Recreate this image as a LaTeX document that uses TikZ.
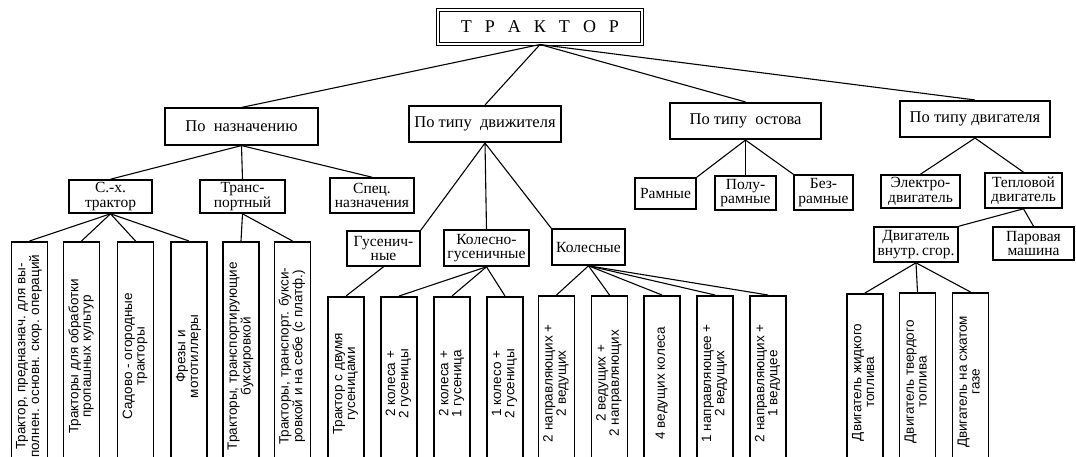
\documentclass[tikz,border=0pt]{standalone}
\usepackage{fontspec}
\usepackage{graphicx}
\setmainfont{Liberation Serif}
\newfontfamily\leaffont{Liberation Sans}
\newcommand{\vlabel}[1]{\rotatebox{90}{\renewcommand{\arraystretch}{0.9}\begin{tabular}{@{}c@{}}#1\end{tabular}}}
\newcommand{\gap}{\hspace{13pt}}

\begin{document}
\begin{tikzpicture}[
  x=1pt, y=-1pt,
  root/.style={draw, double, double distance=2.5pt, line width=1pt, minimum width=204pt, minimum height=34pt, font=\fontsize{18}{19}\selectfont},
  cat/.style={draw, line width=1.6pt, inner sep=1pt, minimum height=36.5pt, font=\fontsize{16.5}{17}\selectfont},
  grp/.style={draw, line width=1.6pt, inner sep=1pt, align=center, font=\fontsize{15.5}{14.5}\selectfont},
  leaf/.style={draw, line width=1.6pt, anchor=north, inner sep=0pt, minimum width=36pt, font=\leaffont\fontsize{13.5}{14}\selectfont},
  link/.style={line width=1.1pt}
]
\useasboundingbox (0,0) rectangle (1076,456);
\clip (0,0) rectangle (1076,456);

% Root
\node[root] (tractor) at (540,27) {Т\gap Р\gap А\gap К\gap Т\gap О\gap Р};

% First level: classification criteria
\node[cat, minimum width=153pt] (by-purpose) at (241.5,126.5) {По\enspace назначению};
\node[cat, minimum width=152pt] (by-drive) at (485,124) {По типу\enspace движителя};
\node[cat, minimum width=151pt] (by-frame) at (745.5,121) {По типу\enspace остова};
\node[cat, minimum width=150pt] (by-engine) at (975,119) {По типу двигателя};

% Second level
\node[grp, minimum width=83pt, minimum height=33pt] (agri) at (110.5,196.5) {С.-х.\\трактор};
\node[grp, minimum width=85pt, minimum height=33pt] (transport) at (242.5,196.5) {Транс-\\портный};
\node[grp, minimum width=84pt, minimum height=35pt] (special) at (372,195.5) {Спец.\\назначения};
\node[grp, minimum width=73pt, minimum height=35pt] (tracked) at (383.5,248.5) {Гусенич-\\ные};
\node[grp, minimum width=85pt, minimum height=36pt] (wheel-track) at (486.5,248) {Колесно-\\гусеничные};
\node[grp, minimum width=73pt, minimum height=36pt] (wheeled) at (588.5,247) {Колесные};
\node[grp, minimum width=61pt, minimum height=31pt] (frame-full) at (665.5,193.5) {Рамные};
\node[grp, minimum width=61pt, minimum height=34pt] (frame-semi) at (745.5,193) {Полу-\\рамные};
\node[grp, minimum width=59pt, minimum height=35pt] (frameless) at (823.5,192.5) {Без-\\рамные};
\node[grp, minimum width=79pt, minimum height=33pt] (electric) at (920.5,191.5) {Электро-\\двигатель};
\node[grp, minimum width=77pt, minimum height=35pt] (thermal) at (1023.5,190.5) {Тепловой\\двигатель};
\node[grp, minimum width=84pt, minimum height=35pt] (ice) at (916,244.5) {Двигатель\\внутр.\,сгор.};
\node[grp, minimum width=81pt, minimum height=33pt] (steam) at (1033.5,243.5) {Паровая\\машина};

% Leaves (run off the bottom edge)
\node[leaf, minimum height=229pt] (agri-1) at (29.5,241) {\vlabel{Трактор, предназнач. для вы-\\полнен. основн. скор. операций}};
\node[leaf, minimum height=229pt] (agri-2) at (81.5,241) {\vlabel{Тракторы для обработки\\пропашных культур}};
\node[leaf, minimum height=229pt] (agri-3) at (135.5,241) {\vlabel{Садово - огородные\\тракторы}};
\node[leaf, minimum height=229pt] (agri-4) at (189,241) {\vlabel{Фрезы и\\мототиллеры}};
\node[leaf, minimum height=229pt] (trans-1) at (241,241) {\vlabel{Тракторы, транспортирующие\\буксировкой}};
\node[leaf, minimum height=229pt] (trans-2) at (292.5,241) {\vlabel{Тракторы, транспорт. букси-\\ровкой и на себе (с платф.)}};
\node[leaf, minimum height=174pt] (track-1) at (346,296) {\vlabel{Трактор с двумя\\гусеницами}};
\node[leaf, minimum height=174pt] (wt-1) at (399,296) {\vlabel{2 колеса +\\2 гусеницы}};
\node[leaf, minimum height=174pt] (wt-2) at (452,296) {\vlabel{2 колеса +\\1 гусеница}};
\node[leaf, minimum height=174pt] (wt-3) at (505,296) {\vlabel{1 колесо +\\2 гусеницы}};
\node[leaf, minimum height=175pt] (wheel-1) at (556.5,295) {\vlabel{2 направляющих +\\2 ведущих}};
\node[leaf, minimum height=175pt] (wheel-2) at (609.5,295) {\vlabel{2 ведущих +\\2 направляющих}};
\node[leaf, minimum height=175pt] (wheel-3) at (662,295) {\vlabel{4 ведущих колеса}};
\node[leaf, minimum height=175pt] (wheel-4) at (715,295) {\vlabel{1 направляющее +\\2 ведущих}};
\node[leaf, minimum height=175pt] (wheel-5) at (768,295) {\vlabel{2 направляющих +\\1 ведущее}};
\node[leaf, minimum height=177pt] (ice-1) at (865,293) {\vlabel{Двигатель жидкого\\топлива}};
\node[leaf, minimum height=178pt] (ice-2) at (917.5,292) {\vlabel{Двигатель твердого\\топлива}};
\node[leaf, minimum height=178pt] (ice-3) at (970.5,292) {\vlabel{Двигатель на сжатом\\газе}};

% Connectors
\draw[link] (tractor.south) -- (by-purpose.north);
\draw[link] (tractor.south) -- (by-drive.north);
\draw[link] (tractor.south) -- (by-frame.north);
\draw[link] (tractor.south) -- (by-engine.north);

\draw[link] (by-purpose.south) -- (agri.north);
\draw[link] (by-purpose.south) -- (transport.north);
\draw[link] (by-purpose.south) -- (special.north);

\draw[link] (by-drive.south) -- (tracked.north east);
\draw[link] (by-drive.south) -- (wheel-track.north);
\draw[link] (by-drive.south) -- (wheeled.north west);

\draw[link] (by-frame.south) -- (frame-full.north east);
\draw[link] (by-frame.south) -- (frame-semi.north);
\draw[link] (by-frame.south) -- (frameless.north west);

\draw[link] (by-engine.south) -- (electric.north);
\draw[link] (by-engine.south) -- (thermal.north);
\draw[link] (thermal.south) -- (ice.north east);
\draw[link] (thermal.south) -- (steam.north);

\draw[link] (agri.south) -- (agri-1.north);
\draw[link] (agri.south) -- (agri-2.north);
\draw[link] (agri.south) -- (agri-3.north);
\draw[link] (agri.south) -- (agri-4.north);
\draw[link] (transport.south) -- (trans-1.north);
\draw[link] (transport.south) -- (trans-2.north);

\draw[link] (tracked.south) -- (track-1.north);
\draw[link] (wheel-track.south) -- (wt-1.north);
\draw[link] (wheel-track.south) -- (wt-2.north);
\draw[link] (wheel-track.south) -- (wt-3.north);
\draw[link] (wheeled.south) -- (wheel-1.north);
\draw[link] (wheeled.south) -- (wheel-2.north);
\draw[link] (wheeled.south) -- (wheel-3.north);
\draw[link] (wheeled.south) -- (wheel-4.north);
\draw[link] (wheeled.south) -- (wheel-5.north);

\draw[link] (ice.south) -- (ice-1.north);
\draw[link] (ice.south) -- (ice-2.north);
\draw[link] (ice.south) -- (ice-3.north);
\end{tikzpicture}
\end{document}
